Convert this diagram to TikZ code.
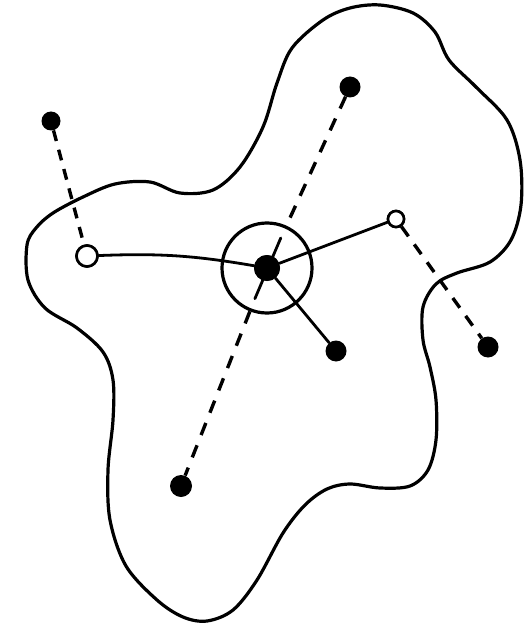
\documentclass[tikz,border=0pt]{standalone}
\usetikzlibrary{calc}
\begin{document}
\begin{tikzpicture}[
  x=1pt, y=-1pt,
  outline/.style={
    line width=3.2pt,
    line join=round
  },
  atom/.style={
    circle,
    fill=black,
    minimum size=#1,
    inner sep=0pt
  },
  atom/.default=19pt,
  hollow/.style={
    circle,
    draw=black,
    fill=white,
    line width=2.6pt,
    minimum size=#1,
    inner sep=0pt
  },
  bond/.style={
    line width=2.8pt,
    line cap=round
  },
  weak bond/.style={
    line width=3.4pt,
    dash pattern=on 13pt off 11pt
  }
]
\useasboundingbox (0,0) rectangle (523,628);

% boundary of the region
\draw[outline] plot[smooth cycle, tension=0.55] coordinates {
  (380,5) (413,13) (435,32) (449,60) (476,87) (507,120) (520,160)
  (521,205) (511,240) (490,262) (457,273) (436,284) (423,307)
  (423,340) (430,367) (436,400) (436,440) (428,470) (410,486)
  (380,488) (350,484) (327,489) (305,505) (283,533) (257,580)
  (233,610) (207,621) (183,617) (157,600) (126,566) (110,520)
  (108,470) (113,420) (113,380) (103,352) (77,328) (45,308)
  (28,280) (27,245) (36,228) (53,213) (83,197) (115,184) (150,182)
  (180,193) (213,190) (240,167) (263,127) (277,83) (292,48)
  (323,20) (350,8)
};

\node[atom=26pt] (C) at (267,268) {};
\node[circle, draw, line width=3.2pt, minimum size=90pt] (ring) at (C) {};
\node[atom=21pt] (T) at (350,87) {};
\node[atom=22pt] (B) at (181,486) {};
\node[atom=19pt] (TL) at (51,121) {};
\node[atom=21pt] (R) at (488,347) {};
\node[atom=21pt] (BR) at (336,351) {};
\node[hollow=21pt] (OL) at (87,256) {};
\node[hollow=16pt] (OR) at (396,219) {};

\draw[weak bond, dash pattern=on 11pt off 9pt] (TL) -- (OL);
\draw[weak bond, dash pattern=on 12pt off 10pt] (OR) -- (R);
\draw[weak bond] (T) -- (ring);
\draw[weak bond] (ring) -- (B);
\draw[bond] ($(C)!33pt!(T)$) -- ($(C)!33pt!(B)$);

\draw[bond] (OL) to[bend left=6] (C);
\draw[bond] (C) -- (OR);
\draw[bond] (C) -- (BR);

\node[atom=26pt] at (C) {};
\node[hollow=21pt] at (OL) {};
\node[hollow=16pt] at (OR) {};
\end{tikzpicture}
\end{document}
